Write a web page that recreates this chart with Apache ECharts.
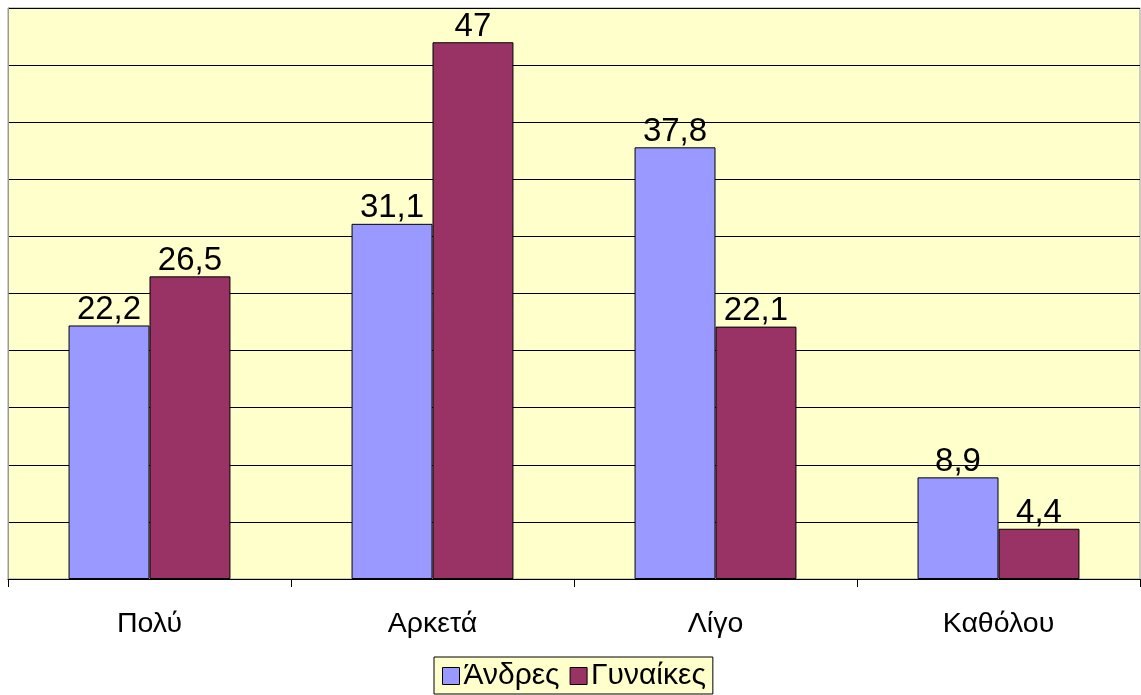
<!DOCTYPE html>
<html>
<head>
<meta charset="utf-8">
<style>
  html, body { margin: 0; padding: 0; background: #fff; }
  #chart { width: 1141px; height: 695px; }
</style>
<script src="https://cdn.jsdelivr.net/npm/echarts@6/dist/echarts.min.js"></script>
</head>
<body>
<div id="chart"></div>
<script>
// Responses by gender (%)
const categories = ['Πολύ', 'Αρκετά', 'Λίγο', 'Καθόλου'];
const seriesNames = ['Άνδρες', 'Γυναίκες'];
const andres = [22.2, 31.1, 37.8, 8.9];
const gynaikes = [26.5, 47, 22.1, 4.4];
const colors = ['#9999FF', '#993366'];

const font = '"Liberation Sans", Arial, sans-serif';
const chart = echarts.init(document.getElementById('chart'));

const labelFmt = p => String(p.value).replace('.', ',');

function makeSeries(name, data, color) {
  return {
    name: name,
    type: 'bar',
    data: data,
    barGap: '0%',
    barCategoryGap: '42.8%',
    itemStyle: { color: color, borderColor: '#000', borderWidth: 1 },
    label: {
      show: true,
      position: 'top',
      distance: -1,
      formatter: labelFmt,
      fontFamily: font,
      fontSize: 33,
      color: '#000'
    }
  };
}

chart.setOption({
  animation: false,
  backgroundColor: '#fff',
  grid: {
    left: 8, right: 1, top: 8, bottom: 116,
    show: true,
    backgroundColor: '#FFFFCC',
    borderColor: '#999',
    borderWidth: 1
  },
  legend: {
    data: seriesNames,
    bottom: 1,
    left: 434,
    icon: 'rect',
    itemWidth: 17,
    itemHeight: 17,
    itemGap: 10,
    itemStyle: { borderColor: '#000', borderWidth: 1 },
    backgroundColor: '#FFFFCC',
    borderColor: '#000',
    borderWidth: 1,
    borderRadius: 0,
    padding: [4, 7, 3, 8],
    textStyle: { fontFamily: font, fontSize: 30, color: '#000', padding: [0, 0, 0, -1] }
  },
  xAxis: {
    type: 'category',
    data: categories,
    axisLine: { lineStyle: { color: '#000', width: 1 } },
    axisTick: { show: true, length: 8, lineStyle: { color: '#000' } },
    axisLabel: { margin: 31, fontFamily: font, fontSize: 28.5, color: '#000' }
  },
  yAxis: {
    type: 'value',
    min: 0,
    max: 50,
    interval: 5,
    axisLine: { show: true, lineStyle: { color: '#999' } },
    axisTick: { show: false },
    axisLabel: { show: false },
    splitLine: { lineStyle: { color: '#000', width: 1 } }
  },
  series: [
    makeSeries(seriesNames[0], andres, colors[0]),
    makeSeries(seriesNames[1], gynaikes, colors[1])
  ]
});
</script>
</body>
</html>
